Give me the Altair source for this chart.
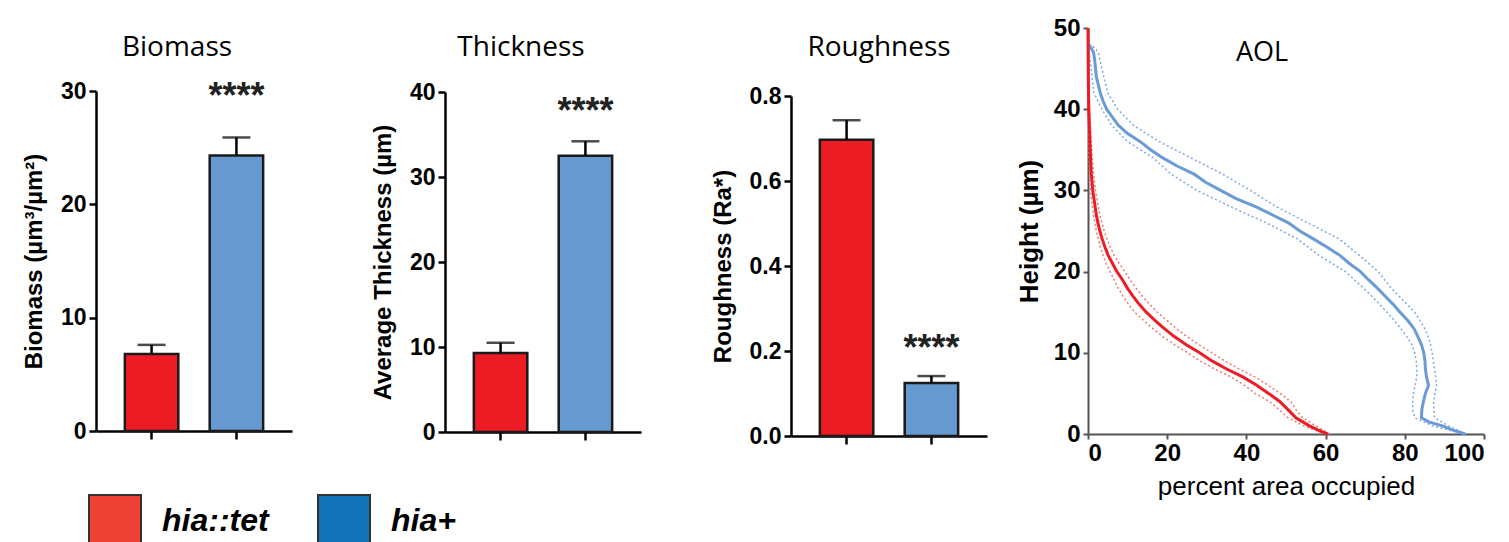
import altair as alt
import pandas as pd

# ---------------- data ----------------
groups = ["hia::tet", "hia+"]
biomass_mean = [6.8, 24.3]
biomass_sem = [0.8, 1.6]
thickness_mean = [9.3, 32.5]
thickness_sem = [1.2, 1.7]
roughness_mean = [0.697, 0.125]
roughness_sem = [0.046, 0.016]

bar_colors = ["#ED1C24", "#6699D0"]
legend_colors = ["#EE4136", "#1472BA"]

# AOL profiles (height in um -> percent area occupied)
blue_h = [0, 0.5, 1, 1.5, 2, 3, 4, 5, 6, 7, 8, 9, 10, 11, 12, 13, 14, 15, 16, 17, 18, 19, 20,
          21, 22, 23, 24, 25, 26, 27, 28, 29, 30, 31, 32, 33, 34, 35, 36, 37, 38, 39, 40, 41,
          42, 44, 46, 47, 47.5, 48]
blue_mean = [95.2, 92.0, 89.5, 86.0, 84.2, 84.3, 84.7, 85.2, 86.0, 85.5, 85.2, 85.1, 84.8, 84.2,
             83.3, 82.3, 80.7, 78.8, 77.0, 75.0, 73.0, 70.8, 68.8, 66.0, 63.6, 60.4, 57.0, 53.5,
             50.6, 46.5, 42.3, 37.4, 33.5, 29.7, 26.8, 22.5, 18.9, 15.8, 13.2, 10.0, 7.7, 6.2,
             4.7, 3.8, 3.1, 2.1, 1.7, 1.4, 0.8, 0.2]
blue_band_h = [0, 1, 2, 3, 4, 5, 6, 7, 8, 9, 10, 11, 12, 13, 14, 15, 16, 17, 18, 20, 22, 24, 26,
               28, 30, 32, 34, 36, 38, 40, 42, 44, 46, 47, 48]
blue_hi = [95.5, 91.0, 87.5, 87.3, 87.3, 87.6, 88.0, 87.8, 87.5, 87.2, 86.9, 86.5, 85.9, 85.0,
           83.8, 82.5, 80.5, 78.5, 76.5, 73.3, 68.5, 63.5, 55.5, 47.5, 41.0, 34.0, 26.0, 18.0,
           11.5, 7.5, 5.0, 4.0, 3.0, 2.6, 0.8]
blue_lo = [95.0, 87.0, 82.5, 82.0, 82.0, 82.2, 82.6, 83.0, 83.0, 82.9, 82.5, 81.8, 80.5, 79.0,
           77.3, 75.5, 73.6, 71.6, 69.5, 65.0, 58.3, 53.0, 45.0, 36.0, 27.5, 21.0, 16.5, 10.0,
           6.0, 3.5, 1.5, 1.0, 0.6, 0.3, 0.0]

red_h = [0, 0.5, 1, 2, 3, 4, 5, 6, 7, 8, 9, 10, 11, 12, 13, 14, 15, 16, 17, 18, 19, 20, 21, 22,
         23, 24, 25, 26, 27, 28, 30, 32, 34, 36, 38, 40, 43, 46, 50]
red_mean = [60.5, 58.0, 55.9, 52.5, 50.5, 48.4, 45.6, 42.6, 39.2, 35.0, 31.3, 28.2, 24.8, 21.8,
            19.2, 16.9, 14.7, 12.9, 11.3, 9.9, 8.7, 7.3, 6.2, 5.1, 4.3, 3.6, 3.0, 2.5, 2.1, 1.8,
            1.2, 0.85, 0.65, 0.5, 0.35, 0.2, 0.1, 0.05, 0.0]
red_band_h = [0, 1, 2, 3, 4, 5, 6, 7, 8, 9, 10, 11, 12, 13, 14, 15, 16, 17, 18, 19, 20, 21, 22,
              23, 24, 25, 26, 27, 28, 30, 32, 34, 36, 38, 40, 43, 46, 50]
red_hi = [61.0, 57.5, 54.2, 52.5, 51.2, 48.5, 45.5, 42.2, 38.2, 34.5, 31.3, 28.0, 25.0, 22.3,
          19.9, 17.5, 15.5, 13.7, 12.1, 10.6, 9.3, 7.9, 6.6, 5.6, 4.8, 4.1, 3.5, 3.0, 2.6, 1.9,
          1.4, 1.1, 0.8, 0.6, 0.4, 0.2, 0.1, 0.0]
red_lo = [60.0, 54.5, 50.5, 48.3, 45.8, 42.2, 39.5, 36.2, 32.0, 28.3, 25.2, 21.8, 18.9, 16.3,
          14.0, 11.8, 10.2, 8.8, 7.6, 6.6, 5.6, 4.6, 3.8, 3.1, 2.6, 2.1, 1.7, 1.4, 1.1, 0.6,
          0.4, 0.3, 0.2, 0.1, 0.05, 0.0, 0.0, 0.0]

BOLD = "Liberation Sans"
TITLE_FONT = "Open Sans"


def bar_panel(name, ytitle, means, sems, dmax, ticks, fmt, view_w, view_h, top,
              star_dy, title_x, with_legend=False):
    df = pd.DataFrame({
        "group": groups,
        "mean": means,
        "hi": [m + s for m, s in zip(means, sems)],
    })
    x = alt.X("group:N", sort=groups,
              scale=alt.Scale(domain=groups, range=[0, 196], paddingInner=0.37, paddingOuter=0.34),
              axis=alt.Axis(title=None, labels=False, domainColor="black", domainWidth=2.5,
                            tickColor="black", tickWidth=2.5, tickSize=8, grid=False))
    yscale = alt.Scale(domain=[0, dmax], range=[view_h, top], nice=False, zero=True)
    y = alt.Y("mean:Q", scale=yscale,
              axis=alt.Axis(title=ytitle, values=ticks, format=fmt, grid=False,
                            domainColor="black", domainWidth=2.5, tickColor="black",
                            tickWidth=2.5, tickSize=7, labelFont=BOLD, labelFontWeight="bold",
                            labelFontSize=23, labelColor="black", labelPadding=3,
                            titleFont=BOLD, titleFontWeight="bold", titleFontSize=24,
                            titleColor="black", titlePadding=14))
    base = alt.Chart(df)
    bars = base.mark_bar(stroke="#1a1a1a", strokeWidth=2.5).encode(
        x=x, y=y,
        fill=alt.condition(alt.datum.group == groups[0], alt.value(bar_colors[0]),
                           alt.value(bar_colors[1])))
    err = base.mark_rule(color="black", strokeWidth=2.5).encode(
        x=x, y=alt.Y("mean:Q", scale=yscale), y2="hi:Q")
    cap = base.mark_tick(color="black", orient="horizontal", size=28, thickness=2.5).encode(
        x=x, y=alt.Y("hi:Q", scale=yscale))
    stars = base.transform_filter(alt.datum.group == "hia+").mark_text(
        text="****", font=BOLD, fontWeight="bold", fontSize=36, dy=star_dy,
        baseline="middle", color="#222").encode(x=x, y=alt.Y("hi:Q", scale=yscale))
    ttl = alt.Chart(pd.DataFrame({"t": [name]})).mark_text(
        font=TITLE_FONT, fontSize=28, align="center", baseline="middle", color="black").encode(
        text="t:N", x=alt.value(title_x), y=alt.value(20))
    layers = [bars, err, cap, stars, ttl]
    if with_legend:
        leg = base.mark_square(clip=True, stroke="#333", strokeWidth=2, filled=True,
                               opacity=1).encode(
            x=alt.value(-5000), y=alt.value(-5000),
            color=alt.Color("group:N", sort=groups,
                            scale=alt.Scale(domain=groups, range=legend_colors),
                            legend=alt.Legend(
                                title=None, orient="none", legendX=-8, legendY=466,
                                direction="horizontal", symbolType="square", symbolSize=2704,
                                symbolStrokeColor="#333", symbolStrokeWidth=2,
                                symbolOpacity=1, labelFont=BOLD, labelFontSize=32,
                                labelFontWeight="bold", labelFontStyle="italic",
                                labelColor="black", labelOffset=20, columnPadding=45,
                                labelLimit=300)))
        layers.append(leg)
    return alt.layer(*layers).properties(width=view_w, height=view_h)


p1 = bar_panel("Biomass", "Biomass (µm³/µm²)", biomass_mean, biomass_sem, 30,
               [0, 10, 20, 30], "d", 349, 403, 63, -40, 81, with_legend=True)
p2 = bar_panel("Thickness", "Average Thickness (µm)", thickness_mean, thickness_sem, 40,
               [0, 10, 20, 30, 40], "d", 346, 404, 64, -29, 76)
p3 = bar_panel("Roughness", "Roughness (Ra*)", roughness_mean, roughness_sem, 0.8,
               [0, 0.2, 0.4, 0.6, 0.8], ".1f", 297, 408, 68, -27, 88)

# ---------------- AOL panel ----------------
rows = []
for h, v in zip(blue_h, blue_mean):
    rows.append({"h": h, "x": v, "line": "blue_mean"})
for h, v in zip(blue_band_h, blue_hi):
    rows.append({"h": h, "x": v, "line": "blue_hi"})
for h, v in zip(blue_band_h, blue_lo):
    rows.append({"h": h, "x": v, "line": "blue_lo"})
for h, v in zip(red_h, red_mean):
    rows.append({"h": h, "x": v, "line": "red_mean"})
for h, v in zip(red_band_h, red_hi):
    rows.append({"h": h, "x": v, "line": "red_hi"})
for h, v in zip(red_band_h, red_lo):
    rows.append({"h": h, "x": v, "line": "red_lo"})
aol = pd.DataFrame(rows)

ax_x = alt.X("x:Q", scale=alt.Scale(domain=[0, 100], nice=False),
             axis=alt.Axis(title="percent area occupied", values=[0, 20, 40, 60, 80, 100],
                           grid=False, domainColor="#555", domainWidth=2, tickColor="#555",
                           tickWidth=2, tickSize=5, labelFont=BOLD, labelFontWeight="bold",
                           labelFontSize=24, labelColor="black", labelPadding=2,
                           titleFont=BOLD, titleFontWeight="normal", titleFontSize=26,
                           titleColor="black", titlePadding=8))
ax_y = alt.Y("h:Q", scale=alt.Scale(domain=[0, 50], nice=False),
             axis=alt.Axis(title="Height (µm)", values=[0, 10, 20, 30, 40, 50], grid=False,
                           domainColor="#555", domainWidth=2, tickColor="#555", tickWidth=2,
                           tickSize=5, labelFont=BOLD, labelFontWeight="bold", labelFontSize=24,
                           labelColor="black", labelPadding=3, titleFont=BOLD,
                           titleFontWeight="bold", titleFontSize=26, titleColor="black",
                           titlePadding=11))
abase = alt.Chart(aol)
blue_band = abase.transform_filter("datum.line == 'blue_hi' || datum.line == 'blue_lo'").mark_line(
    color="#7FA9E3", strokeWidth=1.5, strokeDash=[2, 2.5]).encode(
    x=ax_x, y=ax_y, detail="line:N", order="h:Q")
red_band = abase.transform_filter("datum.line == 'red_hi' || datum.line == 'red_lo'").mark_line(
    color="#F4766E", strokeWidth=1.5, strokeDash=[2, 2.5]).encode(
    x=ax_x, y=ax_y, detail="line:N", order="h:Q")
blue_line = abase.transform_filter("datum.line == 'blue_mean'").mark_line(
    color="#6A9BD8", strokeWidth=3).encode(x=ax_x, y=ax_y, order="h:Q")
red_line = abase.transform_filter("datum.line == 'red_mean'").mark_line(
    color="#ED1C24", strokeWidth=3).encode(x=ax_x, y=ax_y, order="h:Q")
aol_title = alt.Chart(pd.DataFrame({"t": ["AOL"]})).mark_text(
    font=TITLE_FONT, fontSize=27, align="center", baseline="middle", color="black").encode(
    text="t:N", x=alt.value(174), y=alt.value(25))
p4 = alt.layer(blue_band, red_band, blue_line, red_line, aol_title).properties(width=396, height=406)

chart = alt.hconcat(p1, p2, p3, p4, spacing=0, bounds="flush").properties(
    padding={"left": 14, "top": 8, "right": 5, "bottom": 5},
    background="white",
).configure_view(stroke=None)

chart.save("out.html", embed_options={"renderer": "svg", "actions": False})
